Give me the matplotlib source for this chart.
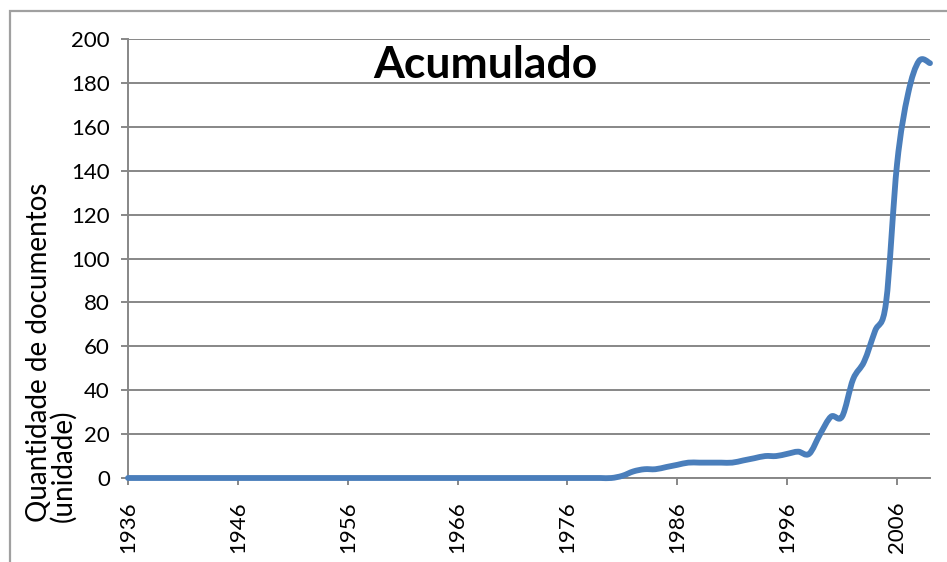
import numpy as np
import matplotlib
matplotlib.use("Agg")
import matplotlib.pyplot as plt
from matplotlib.path import Path
from matplotlib.patches import PathPatch, Rectangle

plt.rcParams['font.family'] = ['Lato', 'DejaVu Sans']

# anos (eixo de categorias) e documentos acumulados
anos = list(range(1936, 2010))
acumulado = [
    0, 0, 0, 0, 0, 0, 0, 0, 0, 0,        # 1936-1945
    0, 0, 0, 0, 0, 0, 0, 0, 0, 0,        # 1946-1955
    0, 0, 0, 0, 0, 0, 0, 0, 0, 0,        # 1956-1965
    0, 0, 0, 0, 0, 0, 0, 0, 0, 0,        # 1966-1975
    0, 0, 0, 0, 0,                       # 1976-1980
    1, 3, 4, 4, 5, 6, 7, 7, 7, 7,        # 1981-1990
    7, 8, 9, 10, 10, 11, 12, 11, 20, 28, # 1991-2000
    28, 45, 53, 67, 80, 143, 175, 190, 189,  # 2001-2009
]
rotulos_x = list(range(1936, 2010, 10))
ticks_y = list(range(0, 201, 20))

W, H = 947, 562
fig = plt.figure(figsize=(W / 100, H / 100), dpi=100)
ax = fig.add_axes([128 / W, 1 - 478 / H, (930 - 128) / W, (478 - 39) / H])

# linha suavizada (estilo Excel): bezier a partir dos pontos
x = np.array(anos, dtype=float)
y = np.array(acumulado, dtype=float)
verts = [(x[0], y[0])]
codes = [Path.MOVETO]
n = len(x)
for i in range(n - 1):
    p0 = np.array([x[max(i - 1, 0)], y[max(i - 1, 0)]])
    p1 = np.array([x[i], y[i]])
    p2 = np.array([x[i + 1], y[i + 1]])
    p3 = np.array([x[min(i + 2, n - 1)], y[min(i + 2, n - 1)]])
    c1 = p1 + (p2 - p0) / 6
    c2 = p2 - (p3 - p1) / 6
    verts += [tuple(c1), tuple(c2), tuple(p2)]
    codes += [Path.CURVE4] * 3
ax.add_patch(PathPatch(Path(verts, codes), fill=False, edgecolor='#4a7ebb',
                       lw=4.2, capstyle='round', joinstyle='round',
                       clip_on=False, zorder=3))

ax.set_xlim(1936, 2009)
ax.set_ylim(0, 200)
ax.set_xticks(rotulos_x)
ax.set_xticklabels([str(a) for a in rotulos_x], rotation=90)
ax.set_yticks(ticks_y)

grid_c = '#878787'
ax.yaxis.grid(True, color=grid_c, lw=1.4)
ax.set_axisbelow(True)
for s in ['top', 'right']:
    ax.spines[s].set_visible(False)
for s in ['left', 'bottom']:
    ax.spines[s].set_color(grid_c)
    ax.spines[s].set_linewidth(1.4)
ax.tick_params(axis='both', color=grid_c, width=1.4, length=5,
               labelsize=16, labelcolor='black')
ax.tick_params(axis='x', pad=12)
ax.tick_params(axis='y', pad=8)

ax.text(0.445, 0.911, 'Acumulado', transform=ax.transAxes, ha='center',
        va='baseline', fontsize=32, fontweight='bold')

fig.text(51 / W, 1 - 522 / H, 'Quantidade de documentos\n(unidade)',
         rotation=90, ha='center', va='bottom', multialignment='left',
         fontsize=20, linespacing=0.9)

# moldura do gráfico
fig.add_artist(Rectangle((10 / W, -0.1), 1.2, 1.1 - 11 / H,
                         transform=fig.transFigure, fill=False,
                         edgecolor='#a0a0a0', lw=1.6))

fig.savefig('out.png', dpi=100)
